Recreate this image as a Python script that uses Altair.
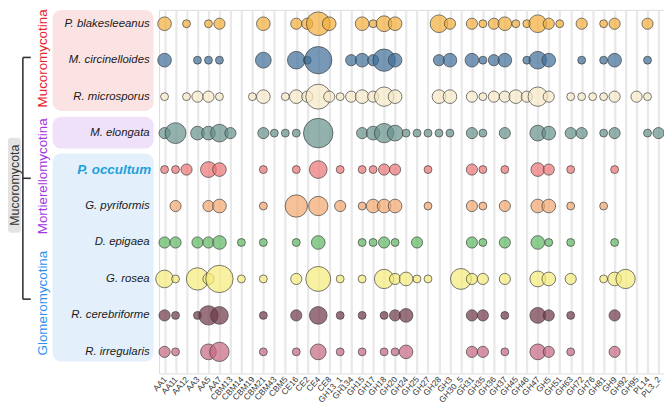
import altair as alt
import pandas as pd

columns = ["AA1", "AA11", "AA12", "AA3", "AA5", "AA7", "CBM13", "CBM14", "CBM19", "CBM21",
           "CBM43", "CBM5", "CE16", "CE2", "CE4", "CE8", "GH13_1", "GH134", "GH15", "GH17",
           "GH18", "GH20", "GH24", "GH25", "GH27", "GH28", "GH3", "GH30_5", "GH31", "GH35",
           "GH36", "GH37", "GH45", "GH46", "GH47", "GH5", "GH51", "GH63", "GH72", "GH76",
           "GH81", "GH9", "GH92", "GH95", "PL14", "PL3_2"]

species = ["P. blakesleeanus", "M. circinelloides", "R. microsporus", "M. elongata",
           "P. occultum", "G. pyriformis", "D. epigaea", "G. rosea",
           "R. cerebriforme", "R. irregularis"]

colors = ["#f2ae3a", "#3d6e98", "#f5e8c4", "#65918a", "#ed7474",
          "#f2a56e", "#5cb85f", "#f5eb7a", "#6e3646", "#c66680"]

p_blakesleeanus = [3, 0, 1, 0, 1, 2, 0, 0, 0, 3, 0, 0, 2, 2, 9, 3, 0, 0, 3, 1,
                   4, 3, 0, 0, 0, 5, 2, 0, 2, 1, 2, 3, 1, 1, 5, 2, 1, 0, 2, 0,
                   1, 2, 0, 0, 2, 0]
m_circinelloides = [3, 0, 0, 1, 1, 1, 0, 0, 0, 4, 0, 0, 5, 1, 12, 0, 0, 2, 3, 2,
                    8, 3, 0, 0, 0, 2, 3, 0, 3, 1, 2, 3, 0, 1, 5, 3, 0, 0, 1, 0,
                    1, 3, 0, 0, 1, 0]
r_microsporus = [1, 0, 1, 2, 2, 1, 0, 0, 1, 3, 0, 1, 3, 2, 10, 2, 1, 2, 3, 2,
                 6, 3, 0, 0, 0, 3, 3, 0, 2, 1, 2, 2, 3, 2, 6, 2, 0, 1, 1, 1,
                 1, 2, 0, 2, 1, 0]
m_elongata = [2, 7, 0, 3, 3, 5, 2, 0, 0, 2, 1, 1, 1, 0, 14, 0, 0, 0, 2, 3,
              6, 4, 1, 1, 1, 1, 1, 0, 2, 1, 0, 2, 0, 0, 4, 3, 0, 2, 2, 0,
              1, 2, 0, 0, 1, 2]
p_occultum = [1, 1, 2, 0, 4, 3, 0, 0, 0, 1, 0, 0, 1, 0, 5, 0, 1, 0, 1, 1,
              2, 2, 0, 0, 1, 0, 0, 0, 2, 1, 0, 1, 0, 0, 3, 2, 0, 1, 0, 0,
              0, 1, 0, 0, 0, 0]
g_pyriformis = [0, 2, 0, 0, 2, 3, 0, 0, 0, 1, 0, 0, 8, 0, 6, 0, 2, 0, 1, 3,
                3, 3, 0, 0, 1, 0, 0, 0, 2, 1, 0, 2, 0, 0, 3, 3, 0, 1, 0, 0,
                1, 0, 0, 0, 0, 0]
d_epigaea = [2, 2, 0, 2, 2, 3, 0, 1, 0, 1, 0, 0, 1, 0, 3, 0, 0, 0, 1, 1,
             2, 1, 0, 2, 0, 0, 0, 0, 2, 1, 0, 2, 0, 0, 3, 1, 0, 1, 0, 0,
             0, 1, 0, 0, 0, 0]
g_rosea = [5, 1, 0, 8, 2, 12, 0, 1, 0, 1, 0, 0, 2, 0, 10, 0, 1, 0, 1, 0,
           6, 2, 3, 1, 1, 0, 0, 7, 2, 2, 0, 2, 0, 0, 4, 3, 0, 2, 0, 0,
           1, 3, 6, 0, 0, 0]
r_cerebriforme = [2, 1, 0, 1, 6, 5, 0, 0, 0, 1, 0, 0, 2, 0, 5, 0, 1, 0, 1, 0,
                  1, 2, 3, 0, 0, 0, 0, 0, 2, 2, 0, 1, 0, 0, 4, 2, 0, 1, 0, 0,
                  0, 2, 0, 0, 0, 0]
r_irregularis = [2, 1, 0, 0, 4, 6, 0, 0, 0, 1, 0, 0, 1, 0, 4, 0, 1, 0, 1, 0,
                 1, 1, 3, 0, 0, 0, 0, 0, 2, 2, 0, 1, 0, 0, 4, 2, 0, 1, 0, 0,
                 0, 2, 0, 0, 0, 0]

values = [p_blakesleeanus, m_circinelloides, r_microsporus, m_elongata, p_occultum,
          g_pyriformis, d_epigaea, g_rosea, r_cerebriforme, r_irregularis]

records = []
for i, (sp, vals) in enumerate(zip(species, values)):
    for j, v in enumerate(vals):
        if v > 0:
            records.append({"species": sp, "row": i, "col": columns[j], "count": v})
df = pd.DataFrame(records)
df_sp = pd.DataFrame({"species": species, "row": list(range(len(species)))})
one = pd.DataFrame({"d": [0]})

FONT = "Liberation Sans"
yscale = alt.Scale(domain=[-0.38, 9.592], reverse=True, nice=False, zero=False)

circles = alt.Chart(df).mark_circle(
    stroke="#3a3a3a", strokeWidth=0.9, strokeOpacity=0.75, fillOpacity=0.7, opacity=1
).encode(
    x=alt.X("col:N", sort=columns,
            scale=alt.Scale(domain=columns, type="point", padding=0.5),
            axis=alt.Axis(title=None, labelAngle=-48, labelAlign="right",
                          labelBaseline="middle", labelFontSize=8.5, labelColor="#333",
                          labelFont=FONT, ticks=False, domain=False, grid=True,
                          gridColor="#e9e9e9", gridWidth=2.3, labelPadding=4)),
    y=alt.Y("row:Q", scale=yscale,
            axis=alt.Axis(values=list(range(10)), labels=False, ticks=False,
                          domain=False, grid=True, gridColor="#ededed", gridWidth=2,
                          title=None)),
    size=alt.Size("count:Q", scale=alt.Scale(domain=[0, 14], range=[0, 890]), legend=None),
    color=alt.Color("species:N", scale=alt.Scale(domain=species, range=colors), legend=None),
)

def box(x0, x1, y0, y1, fill, r=9):
    return alt.Chart(one).mark_rect(fill=fill, cornerRadius=r).encode(
        x=alt.value(x0), x2=alt.value(x1), y=alt.value(y0), y2=alt.value(y1))

def vtext(txt, x, y, color, size=13.5):
    return alt.Chart(one).mark_text(
        text=txt, angle=270, align="center", baseline="middle",
        fontSize=size, font=FONT, color=color
    ).encode(x=alt.value(x), y=alt.value(y))

def rule(x0, x1, y0, y1):
    return alt.Chart(one).mark_rule(color="#333", strokeWidth=1.6).encode(
        x=alt.value(x0), x2=alt.value(x1), y=alt.value(y0), y2=alt.value(y1))

boxes = [
    box(-107.5, -5.5, 0, 102, "#fce3e3"),
    box(-107.5, -5.5, 108, 140, "#f0e1fa"),
    box(-107.5, -5.5, 145, 355, "#e3f0fb"),
    box(-152.5, -139.5, 129, 225, "#e3e3e3", 3),
]

labels_normal = alt.Chart(df_sp).transform_filter(
    alt.datum.species != "P. occultum"
).mark_text(align="right", baseline="middle", fontStyle="italic", fontSize=11.5,
            font=FONT, color="#1a1a1a").encode(
    x=alt.value(-9.5), y=alt.Y("row:Q", scale=yscale, axis=None), text="species:N")

labels_bold = alt.Chart(df_sp).transform_filter(
    alt.datum.species == "P. occultum"
).mark_text(align="right", baseline="middle", fontStyle="italic", fontWeight="bold",
            fontSize=13.5, font=FONT, color="#1fa0dc").encode(
    x=alt.value(-8), y=alt.Y("row:Q", scale=yscale, axis=None), text="species:N")

decor = [
    vtext("Mucoromycotina", -117.5, 49, "#e8232b"),
    vtext("Mortierellomycotina", -117.5, 168, "#a236e0"),
    vtext("Glomeromycotina", -117.5, 296, "#2f8ff0"),
    vtext("Mucoromycota", -145, 177, "#333333", 12.5),
    rule(-137.5, -137.5, 48, 292),
    rule(-137.5, -129.5, 48, 48),
    rule(-137.5, -129.5, 170, 170),
    rule(-137.5, -129.5, 292, 292),
]

chart = alt.layer(*boxes, circles, labels_normal, labels_bold, *decor).properties(
    width=509.7, height=367,
    padding={"left": 152.5, "top": 0, "right": 0, "bottom": 35},
    autosize=alt.AutoSizeParams(type="none"),
).configure_view(stroke=None).configure(background="white")

chart.save("out.html", embed_options={"renderer": "svg", "actions": False})
